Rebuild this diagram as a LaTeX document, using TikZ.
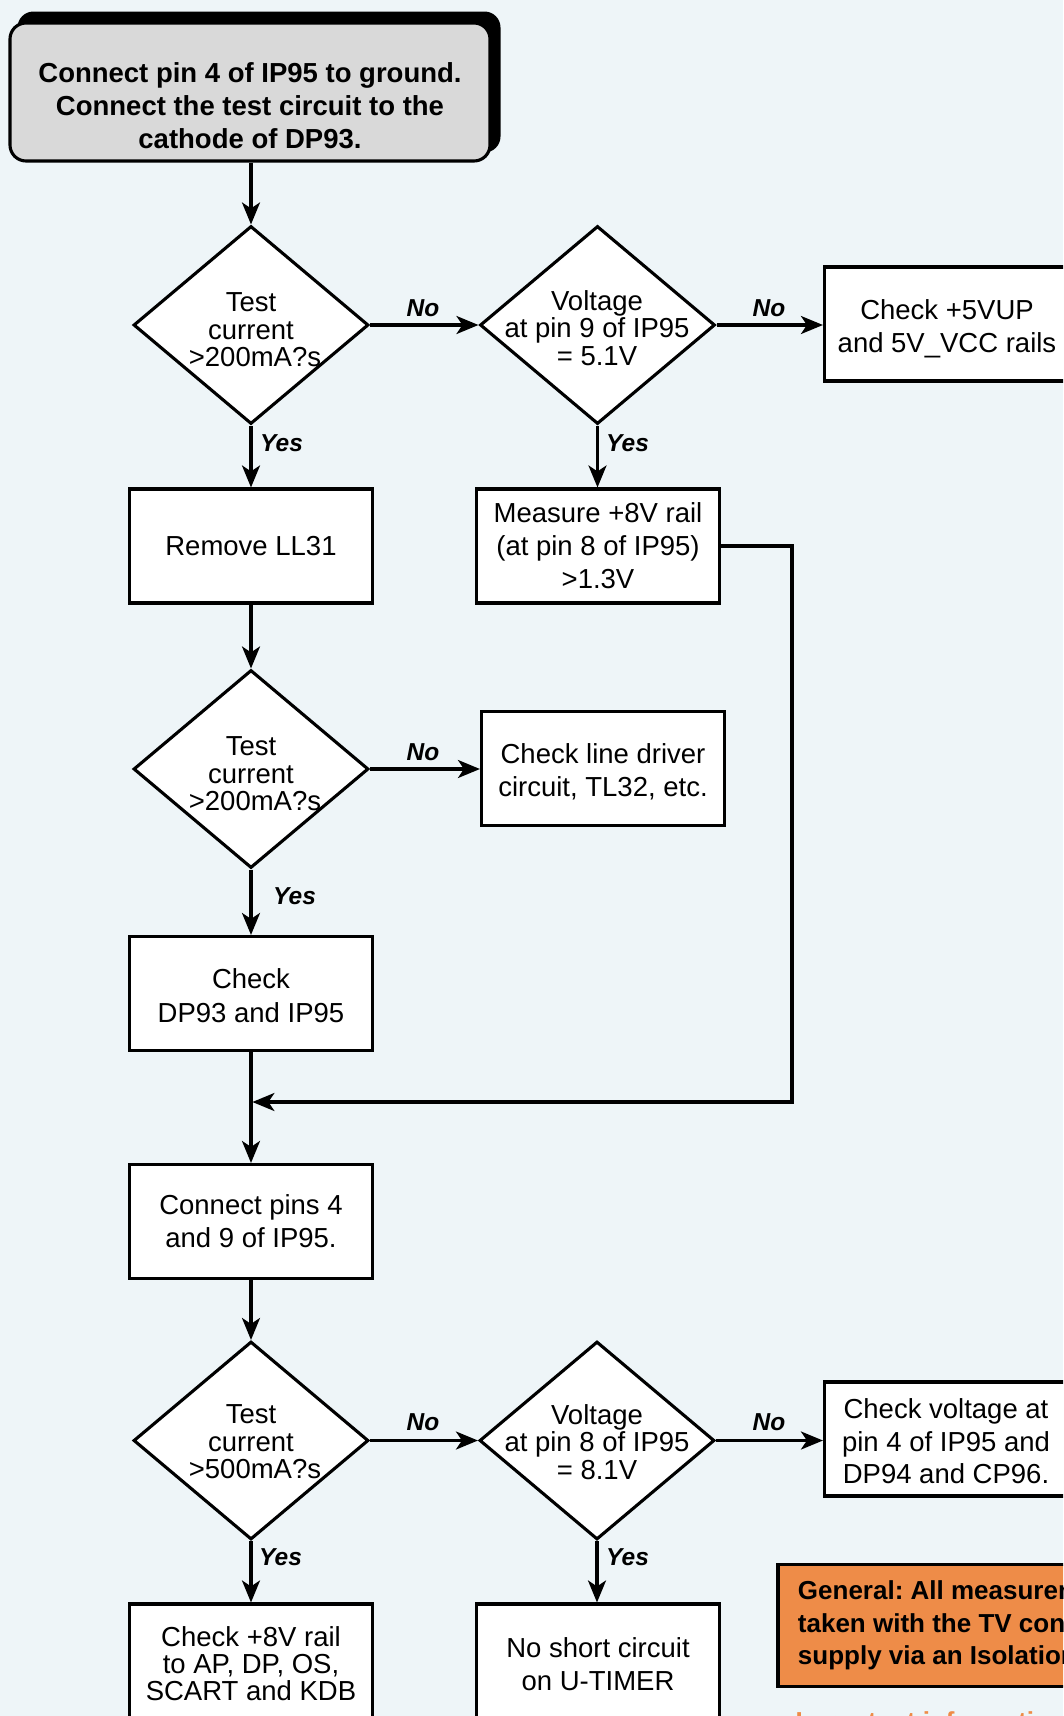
\documentclass[tikz,border=0pt]{standalone}
\usepackage{fontspec}
\setmainfont{Liberation Sans}
\usetikzlibrary{shapes.geometric,arrows.meta}
\definecolor{bg}{RGB}{238,245,248}
\definecolor{orng}{RGB}{238,140,72}
\definecolor{titlegray}{RGB}{217,217,217}
\begin{document}
\frenchspacing
\begin{tikzpicture}[x=1pt,y=-1pt,
  stepbox/.style={draw, line width=3.1pt, fill=white, minimum width=243pt, minimum height=114pt,
    inner sep=0pt, align=center, font=\fontsize{27.5}{33}\selectfont},
  dia/.style={draw, diamond, line width=3.1pt, fill=white, minimum width=235pt, minimum height=198pt, inner sep=0pt},
  dtext/.style={align=center, inner sep=0pt, font=\fontsize{27.5}{27.5}\selectfont},
  arr/.style={line width=3.1pt, -{Stealth[length=22pt,width=18pt,inset=6pt]}},
  lbl/.style={font=\fontsize{24.5}{24.5}\selectfont\bfseries\itshape, inner sep=0pt},
]
\useasboundingbox (0,0) rectangle (1063,1716);
\clip (0,0) rectangle (1063,1716);
\fill[bg] (0,0) rectangle (1063,1716);

% title box with shadow
\node[fill=black, rounded corners=16pt, minimum width=483pt, minimum height=141pt, inner sep=0pt] (topshadow) at (259,82) {};
\node[draw, line width=3.1pt, fill=titlegray, rounded corners=16pt, minimum width=480pt, minimum height=138pt, inner sep=0pt] (top) at (250,92) {};
\node[align=center, inner sep=0pt, font=\fontsize{27.5}{33}\selectfont\bfseries] (toptext) at (250,106)
  {Connect pin 4 of IP95 to ground.\\Connect the test circuit to the\\cathode of DP93.};

% first row
\node[dia] (d1) at (251,325) {};
\node[dtext] (d1t) at (251,330) {Test\\current\\\hspace*{8pt}>200mA?s};
\node[dia] (d2) at (597.5,325) {};
\node[dtext] (d2t) at (597,328) {Voltage\\at pin 9 of IP95\\= 5.1V};
\node[stepbox, minimum width=245pt] (chk5) at (947,324) {};
\node[align=center, inner sep=0pt, font=\fontsize{27.5}{33}\selectfont] (chk5t) at (947,328.5) {Check +5VUP\\and 5V\_VCC rails};

\node[stepbox] (rem) at (251,546) {Remove LL31};
\node[stepbox] (meas) at (598,546) {Measure +8V rail\\(at pin 8 of IP95)\\>1.3V};

\node[dia] (d3) at (251,769) {};
\node[dtext] (d3t) at (251,774) {Test\\current\\\hspace*{8pt}>200mA?s};
\node[stepbox] (drv) at (603,768.5) {};
\node[align=center, inner sep=0pt, font=\fontsize{27.5}{33}\selectfont] (drvt) at (603,771.5) {Check line driver\\circuit, TL32, etc.};

\node[stepbox] (dp) at (251,993.5) {};
\node[align=center, inner sep=0pt, font=\fontsize{27.5}{34}\selectfont] (dpt) at (251,996) {Check\\DP93 and IP95};
\node[stepbox] (conn) at (251,1221.5) {Connect pins 4\\and 9 of IP95.};

\node[dia] (d4) at (251,1440.5) {};
\node[dtext] (d4t) at (251,1442) {Test\\current\\\hspace*{8pt}>500mA?s};
\node[dia] (d5) at (597,1440.5) {};
\node[dtext] (d5t) at (597,1442) {Voltage\\at pin 8 of IP95\\= 8.1V};
\node[stepbox, minimum width=245pt] (chkv) at (947,1439) {};
\node[align=center, inner sep=0pt, font=\fontsize{27.5}{32.5}\selectfont] (chkvt) at (946,1441.5) {Check voltage at\\pin 4 of IP95 and\\DP94 and CP96.};

\node[stepbox, font=\fontsize{27.5}{27}\selectfont] (b1) at (251,1661) {};
\node[align=center, inner sep=0pt, font=\fontsize{27.5}{27}\selectfont] (b1t) at (251,1663.5) {Check +8V rail\\to AP, DP, OS,\\SCART and KDB};
\node[stepbox] (b2) at (598,1661) {};
\node[align=center, inner sep=0pt, font=\fontsize{27.5}{33}\selectfont] (b2t) at (598,1664) {No short circuit\\on U-TIMER};

% notes
\node[draw, line width=3.1pt, fill=orng, anchor=west, minimum height=122pt, minimum width=400pt,
  align=left, inner xsep=20pt, font=\fontsize{26}{32.5}\selectfont\bfseries] (gen) at (776.4,1625.5)
  {General: All measurements should be\\taken with the TV connected to the mains\\supply via an Isolation transformer.};
\node[anchor=base west, inner sep=0pt, text=orng, font=\fontsize{26}{26}\selectfont\bfseries] (imp) at (795.5,1730.5) {Important information};

% connectors
\draw[arr] (top.south -| d1.north) -- (d1.north);
\draw[arr] (d1.east) -- (d2.west);
\draw[arr] (d2.east) -- (d2.east -| chk5.west);
\draw[arr] (d1.south) -- (rem.north);
\draw[arr] (d2.south) -- (d2.south |- meas.north);
\draw[arr] (rem.south) -- (d3.north);
\draw[arr] (d3.east) -- (d3.east -| drv.west);
\draw[arr] (d3.south) -- (dp.south |- dp.north);
\coordinate (rc) at (792,1102);
\coordinate (jn) at (252.4,1102);
\draw[arr] (meas.east) -| (rc) -- (jn);
\draw[arr] (dp.south) -- (conn.north);
\draw[arr] (conn.south) -- (d4.north);
\draw[arr] (d4.east) -- (d5.west);
\draw[arr] (d5.east) -- (d5.east -| chkv.west);
\draw[arr] (d4.south) -- (b1.north);
\draw[arr] (d5.south) -- (d5.south |- b2.north);

% labels
\node[lbl] (no1) at (423,308) {No};
\node[lbl] (no2) at (769,308) {No};
\node[lbl] (no3) at (423,752) {No};
\node[lbl] (no4) at (423,1422) {No};
\node[lbl] (no5) at (769,1422) {No};
\node[lbl, anchor=west] (y1) at (260,443) {Yes};
\node[lbl, anchor=west] (y2) at (606,443) {Yes};
\node[lbl, anchor=west] (y3) at (273,896) {Yes};
\node[lbl, anchor=west] (y4) at (259,1557) {Yes};
\node[lbl, anchor=west] (y5) at (606,1557) {Yes};
\end{tikzpicture}
\end{document}
